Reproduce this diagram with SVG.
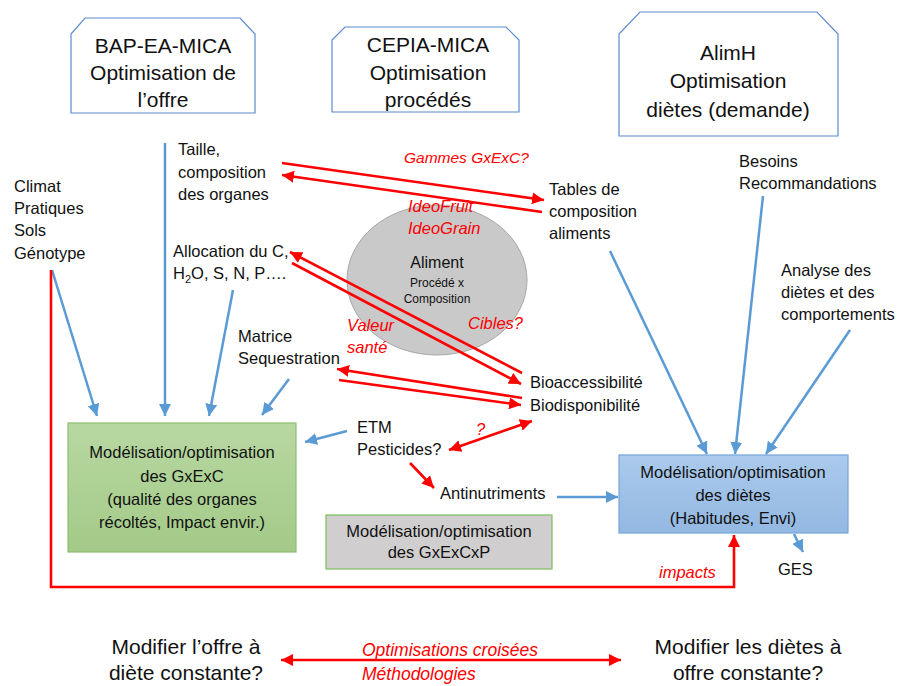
<svg xmlns="http://www.w3.org/2000/svg" width="903" height="686" viewBox="0 0 903 686">
<defs>
<style>
text{font-family:"Liberation Sans",Arial,sans-serif;fill:#111}
.t{font-size:16.5px}
.big{font-size:21px}
.red{fill:#ff0000;font-style:italic}
.c{text-anchor:middle}
.top{fill:#fff;stroke:#5b8bd0;stroke-width:1.2}
.blue{stroke:#5b9bd5;stroke-width:2.5;fill:none;marker-end:url(#ab)}
.rl{stroke:#ff0000;stroke-width:2.6;fill:none}
.re{marker-end:url(#ar)}
.rs{marker-start:url(#ar)}
</style>
<marker id="ab" markerUnits="userSpaceOnUse" markerWidth="12" markerHeight="12" refX="10" refY="5" orient="auto" viewBox="0 0 10 10"><path d="M0,0 L10,5 L0,10 z" fill="#5b9bd5"/></marker>
<marker id="ar" markerUnits="userSpaceOnUse" markerWidth="12" markerHeight="12" refX="10" refY="5" orient="auto-start-reverse" viewBox="0 0 10 10"><path d="M0,0 L10,5 L0,10 z" fill="#ff0000"/></marker>
<linearGradient id="gg" x1="0" y1="0" x2="0" y2="1"><stop offset="0" stop-color="#b8d8a2"/><stop offset="1" stop-color="#a3ca88"/></linearGradient>
<linearGradient id="gb" x1="0" y1="0" x2="0" y2="1"><stop offset="0" stop-color="#abcaec"/><stop offset="1" stop-color="#93b8e2"/></linearGradient>
</defs>

<g id="bap">
<path class="top" d="M85,18 L240,18 L255,34 L255,113 L71,113 L71,34 Z"/>
<text class="big c" x="163" y="53">BAP-EA-MICA</text>
<text class="big c" x="163" y="80">Optimisation de</text>
<text class="big c" x="163" y="107">l’offre</text>
</g>
<g id="cepia">
<path class="top" d="M345,27 L506,27 L519,40 L519,112 L332,112 L332,40 Z"/>
<text class="big c" x="428" y="52">CEPIA-MICA</text>
<text class="big c" x="428" y="80">Optimisation</text>
<text class="big c" x="428" y="107">procédés</text>
</g>
<g id="alimh">
<path class="top" d="M640,12 L817,12 L838,34 L838,136 L619,136 L619,34 Z"/>
<text class="big c" x="728" y="60">AlimH</text>
<text class="big c" x="728" y="88">Optimisation</text>
<text class="big c" x="728" y="117">diètes (demande)</text>
</g>

<g id="aliment">
<ellipse cx="437" cy="280" rx="90" ry="75" fill="#c9c9c9" stroke="#a6a6a6" stroke-width="1"/>
<text class="c" x="437" y="268" style="font-size:16px">Aliment</text>
<text class="c" x="437" y="287" style="font-size:12px">Procédé x</text>
<text class="c" x="437" y="303" style="font-size:12px">Composition</text>
</g>

<g id="connectors">
<line class="blue" x1="165" y1="143" x2="165" y2="416"/>
<line class="blue" x1="52" y1="270" x2="97" y2="416"/>
<line class="blue" x1="233" y1="290" x2="209" y2="416"/>
<line class="blue" x1="289" y1="379" x2="262" y2="415"/>
<line class="blue" x1="347" y1="431" x2="305" y2="442"/>
<line class="blue" x1="557" y1="497" x2="618" y2="497"/>
<line class="blue" x1="610" y1="251" x2="707" y2="454"/>
<line class="blue" x1="763" y1="196" x2="735" y2="454"/>
<line class="blue" x1="850" y1="330" x2="766" y2="454"/>
<line class="blue" x1="794" y1="534" x2="803" y2="552"/>

<line class="rl re" x1="282" y1="163" x2="544" y2="200"/>
<line class="rl re" x1="542" y1="212" x2="282" y2="175"/>
<line class="rl re" x1="522" y1="373" x2="290" y2="252"/>
<line class="rl re" x1="292" y1="263" x2="521" y2="384"/>
<line class="rl re" x1="522" y1="398" x2="337" y2="369"/>
<line class="rl re" x1="339" y1="380" x2="521" y2="405"/>
<line class="rl re rs" x1="449" y1="450" x2="532" y2="421"/>
<line class="rl re" x1="410" y1="463" x2="434" y2="488"/>
<path class="rl re" d="M51,270 L51,587 L734,587 L734,535"/>
<line class="rl re rs" x1="281" y1="660" x2="621" y2="660"/>
</g>

<g id="taille">
<text class="t" x="178" y="155">Taille,</text>
<text class="t" x="178" y="177.5">composition</text>
<text class="t" x="178" y="200">des organes</text>
</g>
<g id="climat">
<text class="t" x="14" y="192">Climat</text>
<text class="t" x="14" y="214">Pratiques</text>
<text class="t" x="14" y="236">Sols</text>
<text class="t" x="14" y="259">Génotype</text>
</g>
<g id="allocation">
<text class="t" x="173" y="257">Allocation du C,</text>
<text class="t" x="173" y="279">H<tspan style="font-size:11px" dy="4">2</tspan><tspan dy="-4">O, S, N, P….</tspan></text>
</g>
<g id="matrice">
<text class="t" x="238" y="342">Matrice</text>
<text class="t" x="238" y="364">Sequestration</text>
</g>
<g id="tables">
<text class="t" x="549" y="195">Tables de</text>
<text class="t" x="549" y="217">composition</text>
<text class="t" x="549" y="239">aliments</text>
</g>
<g id="besoins">
<text class="t" x="739" y="167">Besoins</text>
<text class="t" x="739" y="189">Recommandations</text>
</g>
<g id="analyse">
<text class="t" x="781" y="276">Analyse des</text>
<text class="t" x="781" y="298">diètes et des</text>
<text class="t" x="781" y="320">comportements</text>
</g>
<g id="bio">
<text class="t" x="530" y="388">Bioaccessibilité</text>
<text class="t" x="530" y="411">Biodisponibilité</text>
</g>
<g id="etm">
<text class="t" x="357" y="433">ETM</text>
<text class="t" x="357" y="455">Pesticides?</text>
</g>
<g id="antinutriments">
<text class="t" x="440" y="499">Antinutriments</text>
</g>
<g id="ges">
<text class="t" x="778" y="575">GES</text>
</g>

<g id="gxexc">
<rect x="68" y="423" width="228" height="129" fill="url(#gg)" stroke="#8dbf6e" stroke-width="1.2"/>
<text class="t c" x="182" y="458">Modélisation/optimisation</text>
<text class="t c" x="182" y="482">des GxExC</text>
<text class="t c" x="182" y="505">(qualité des organes</text>
<text class="t c" x="182" y="528">récoltés, Impact envir.)</text>
</g>
<g id="dietes">
<rect x="619" y="455" width="229" height="78" fill="url(#gb)" stroke="#76a5da" stroke-width="1.2"/>
<text class="t c" x="733" y="478">Modélisation/optimisation</text>
<text class="t c" x="733" y="501">des diètes</text>
<text class="t c" x="733" y="524">(Habitudes, Envi)</text>
</g>
<g id="gxexcxp">
<rect x="326" y="515" width="226" height="54" fill="#d0cece" stroke="#7fbf5c" stroke-width="1.2"/>
<text class="t c" x="439" y="537">Modélisation/optimisation</text>
<text class="t c" x="439" y="558">des GxExCxP</text>
</g>

<g id="red-labels">
<text class="red" x="404" y="163" style="font-size:15.5px">Gammes GxExC?</text>
<text class="red t" x="408" y="212">IdeoFruit</text>
<text class="red t" x="408" y="234">IdeoGrain</text>
<text class="red t" x="347" y="331">Valeur</text>
<text class="red t" x="347" y="353">santé</text>
<text class="red t" x="468" y="329">Cibles?</text>
<text class="red t" x="476" y="435">?</text>
<text class="red t" x="659" y="578">impacts</text>
<text class="red" x="362" y="656" style="font-size:17.5px">Optimisations croisées</text>
<text class="red" x="362" y="680" style="font-size:17.5px">Méthodologies</text>
</g>

<g id="bottom">
<text class="c" x="186" y="654" style="font-size:21px">Modifier l’offre à</text>
<text class="c" x="186" y="680" style="font-size:21px">diète constante?</text>
<text class="c" x="748" y="654" style="font-size:21px">Modifier les diètes à</text>
<text class="c" x="748" y="680" style="font-size:21px">offre constante?</text>
</g>
</svg>
